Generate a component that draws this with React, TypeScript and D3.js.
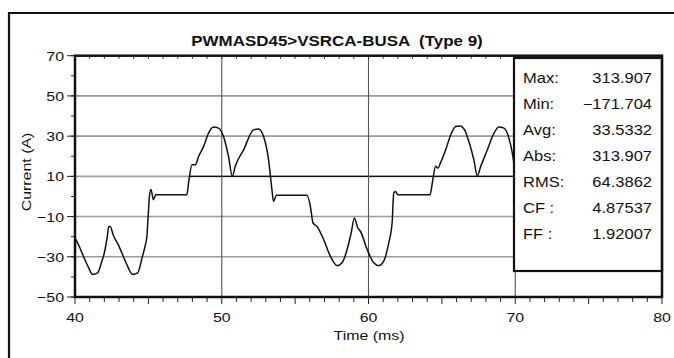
import React from 'react';
import * as d3 from 'd3';

const chartTitle = 'PWMASD45>VSRCA-BUSA  (Type 9)';
const xLabel = 'Time (ms)';
const yLabel = 'Current (A)';
const xTicks = [40, 50, 60, 70, 80];
const yTicks = [70, 50, 30, 10, -10, -30, -50];

// waveform
const timeMs = [
  40.0, 40.3, 40.57, 40.9, 41.2, 41.54, 41.8, 42.0, 42.2, 42.3, 42.4, 42.6, 43.0, 43.48, 43.93,
  44.27, 44.6, 44.8, 44.9, 45.0, 45.07, 45.18, 45.34, 45.5, 47.62, 47.74, 47.97, 48.2, 48.42,
  48.76, 49.1, 49.44, 49.78, 50.12, 50.46, 50.72, 50.92, 51.49, 52.17, 52.5, 52.85, 53.19, 53.42,
  53.53, 53.72, 55.81, 56.04, 56.22, 56.49, 56.95, 57.4, 57.86, 58.2, 58.54, 58.82, 59.04, 59.27,
  59.45, 59.91, 60.36, 60.7, 61.04, 61.38, 61.61, 61.72, 61.84, 62.0, 64.19, 64.35, 64.57, 64.73,
  64.9, 65.26, 65.6, 65.94, 66.23, 66.55, 66.84, 67.18, 67.41, 67.65, 68.1, 68.55, 68.89, 69.23,
  69.57, 69.8, 70.0,
];
const currentA = [
  -20.6, -25, -29.7, -35, -38.8, -38, -33, -28, -20, -15, -15, -19, -24.8, -33, -38.8,
  -38, -29.7, -24, -19.8, -8, 0, 3.4, -1.6, 0.8, 0.8, 6.7, 15.8, 15.8, 19.9,
  24.8, 31.5, 34.5, 34, 29.8, 19.9, 10, 15, 23.2, 33.1, 33.5, 29.8, 18.2, 3.3,
  -2.5, 0.6, 0.6, -5, -13.2, -14.9, -21.5, -29.7, -34.4, -33, -26.4, -18.1, -10.7, -15.7,
  -17.3, -26.4, -33, -34.4, -32.2, -23.1, -13.2, 1.7, 2.5, 0.8, 0.8, 6.7, 15, 14.1,
  16.6, 23.2, 30.6, 34.8, 35.1, 33.1, 27.3, 18.2, 10.3, 15, 23.2, 31.5, 34.5, 34,
  29, 21.6, 12,
];

const statLabels = ['Max:', 'Min:', 'Avg:', 'Abs:', 'RMS:', 'CF :', 'FF :'];
const statValues = ['313.907', '\u2212171.704', '33.5332', '313.907', '64.3862', '4.87537', '1.92007'];

const font = '"Liberation Sans", Arial, Helvetica, sans-serif';

function T({ x, y, anchor = 'start', size = 13.5, sx = 1.18, weight = 'normal', rotate = 0, children }: any) {
  return (
    <text
      transform={`translate(${x},${y}) rotate(${rotate}) scale(${sx},1)`}
      textAnchor={anchor}
      fontSize={size}
      fontWeight={weight}
      fontFamily={font}
      fill="#111"
      style={{ whiteSpace: 'pre' }}
    >
      {children}
    </text>
  );
}

export default function App() {
  const W = 674;
  const H = 358;
  const left = 75, right = 662, top = 55.7, bottom = 297;

  const x = d3.scaleLinear().domain([40, 80]).range([left, right]);
  const y = d3.scaleLinear().domain([-50, 70]).range([bottom, top]);

  const pts: [number, number][] = timeMs.map((t, i) => [t, currentA[i]]);
  const line = d3.line<[number, number]>().x(d => x(d[0])).y(d => y(d[1])).curve(d3.curveMonotoneX);

  const minorX = d3.range(40, 81, 1);
  const minorY = d3.range(-50, 71, 10);

  // stats box
  const box = { x0: 514, y0: 58, x1: 662, y1: 271 };
  const rowY = d3.scaleLinear().domain([0, statLabels.length - 1]).range([83, 239]);

  const refStart = 47.8;

  return (
    <svg width={W} height={H} style={{ position: 'absolute', left: 0, top: 0, background: '#fff' }}>
      {/* outer frame */}
      <path d={`M9,${H + 2} V13 H${W + 2}`} fill="none" stroke="#111" strokeWidth={2.2} />

      <T x={337} y={46} anchor="middle" size={15} sx={1.13} weight="bold">{chartTitle}</T>

      {/* horizontal grid */}
      {yTicks.filter(v => v !== 70 && v !== -50).map(v => (
        <line key={'h' + v} x1={left} x2={right} y1={y(v)} y2={y(v)} stroke="#9a9a9a" strokeWidth={1.6} />
      ))}
      <line x1={x(refStart)} x2={right} y1={y(10)} y2={y(10)} stroke="#111" strokeWidth={1.3} />
      {/* vertical grid */}
      {xTicks.filter(v => v !== 40 && v !== 80).map(v => (
        <line key={'v' + v} x1={x(v)} x2={x(v)} y1={top} y2={bottom} stroke="#555" strokeWidth={1.1} />
      ))}

      <path d={line(pts) || ''} fill="none" stroke="#111" strokeWidth={1.5} strokeLinejoin="round" />

      {/* stats box */}
      <rect x={box.x0} y={box.y0} width={box.x1 - box.x0} height={box.y1 - box.y0} fill="#fff" stroke="#111" strokeWidth={2.2} />
      {statLabels.map((lab, i) => (
        <g key={lab}>
          <T x={523} y={rowY(i)} size={14}>{lab}</T>
          <T x={652} y={rowY(i)} size={14} anchor="end">{statValues[i]}</T>
        </g>
      ))}

      {/* plot border */}
      <rect x={left} y={top} width={right - left} height={bottom - top} fill="none" stroke="#111" strokeWidth={2.5} />

      {/* x ticks */}
      {minorX.map(v => (
        <g key={'xt' + v}>
          <line x1={x(v)} x2={x(v)} y1={bottom} y2={bottom + (v % 5 === 0 ? 7 : 5)} stroke="#222" strokeWidth={1} />
          {v < 70 && <line x1={x(v)} x2={x(v)} y1={top} y2={top + 3} stroke="#222" strokeWidth={1} />}
        </g>
      ))}
      {xTicks.map(v => (
        <T key={'xl' + v} x={x(v)} y={322} anchor="middle">{String(v)}</T>
      ))}

      {/* y ticks */}
      {minorY.map(v => (
        <line key={'ym' + v} x1={left - 4} x2={left} y1={y(v)} y2={y(v)} stroke="#222" strokeWidth={1} />
      ))}
      {yTicks.map(v => (
        <g key={'yt' + v}>
          <line x1={left - 8} x2={left} y1={y(v)} y2={y(v)} stroke="#222" strokeWidth={1} />
          <T x={64} y={y(v) + 5} anchor="end">{v < 0 ? '\u2212' + Math.abs(v) : String(v)}</T>
        </g>
      ))}

      <T x={369} y={340} anchor="middle">{xLabel}</T>
      <T x={31} y={172} anchor="middle" rotate={-90}>{yLabel}</T>
    </svg>
  );
}
